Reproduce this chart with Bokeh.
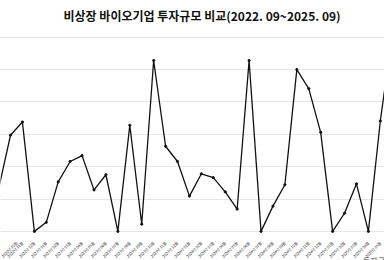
import math
from bokeh.plotting import figure
from bokeh.models import Range1d, ColumnDataSource, Legend, LegendItem, FixedTicker, Title
from bokeh.embed import file_html
from bokeh.resources import INLINE

months = ["2022년 09월", "2022년 10월", "2022년 11월", "2022년 12월",
          "2023년 01월", "2023년 02월", "2023년 03월", "2023년 04월", "2023년 05월", "2023년 06월",
          "2023년 07월", "2023년 08월", "2023년 09월", "2023년 10월", "2023년 11월", "2023년 12월",
          "2024년 01월", "2024년 02월", "2024년 03월", "2024년 04월", "2024년 05월", "2024년 06월",
          "2024년 07월", "2024년 08월", "2024년 09월", "2024년 10월", "2024년 11월", "2024년 12월",
          "2025년 01월", "2025년 02월", "2025년 03월", "2025년 04월", "2025년 05월", "2025년 06월"]
amount = [1310, 2970, 3380, 0, 280, 1530, 2160, 2340, 1280, 1750, 0, 3280, 220, 5280,
          2630, 2160, 1090, 1780, 1660, 1220, 690, 5280, 0, 780, 1440, 5000, 4410, 3060,
          0, 560, 1470, 0, 3410, 6100]

idx = list(range(-1, len(amount) - 1))
src = ColumnDataSource(dict(x=idx, y=amount))

p = figure(width=384, height=260, output_backend="svg", toolbar_location=None,
           x_range=Range1d(-0.838, 31.35), y_range=Range1d(-900, 6300),
           min_border_left=0, min_border_right=0, min_border_top=0, min_border_bottom=0)
p.outline_line_color = None
p.add_layout(Title(text="비상장 바이오기업 투자규모 비교(2022. 09~2025. 09)", align="left", offset=63,
                   text_font="Noto Sans CJK KR", text_font_size="12px", text_font_style="bold",
                   text_color="#111111", standoff=8), "above")

p.line("x", "y", source=src, line_color="#111111", line_width=1.3)
p.scatter("x", "y", source=src, size=2.2, color="#111111")

p.yaxis.visible = False
p.ygrid.grid_line_color = "#e6e6e6"
p.ygrid.ticker = FixedTicker(ticks=[0, 1000, 2000, 3000, 4000, 5000, 6000])
p.xgrid.grid_line_color = None

p.xaxis.fixed_location = 0
p.xaxis.ticker = FixedTicker(ticks=idx)
p.xaxis.major_label_overrides = {i: m for i, m in zip(idx, months)}
p.xaxis.major_label_orientation = math.pi / 4
p.xaxis.major_label_text_font_size = "3.8px"
p.xaxis.major_label_text_font = "Noto Sans CJK KR"
p.xaxis.major_label_text_color = "#222222"
p.xaxis.major_tick_line_color = None
p.xaxis.minor_tick_line_color = None
p.xaxis.axis_line_color = None
p.xaxis.major_label_standoff = 5

dummy = p.scatter(x=[], y=[], marker="square", size=7, fill_color="#2f9a6a", line_color="#2f9a6a")
legend = Legend(items=[LegendItem(label="투자규모", renderers=[dummy])], location=(352, -6),
                border_line_color=None, background_fill_alpha=0, padding=2, margin=0,
                label_text_font_size="8px", label_text_font="Noto Sans CJK KR",
                glyph_height=8, glyph_width=8, label_height=8, label_standoff=3)
p.add_layout(legend, "center")

open("out.html", "w").write(file_html(p, INLINE))
